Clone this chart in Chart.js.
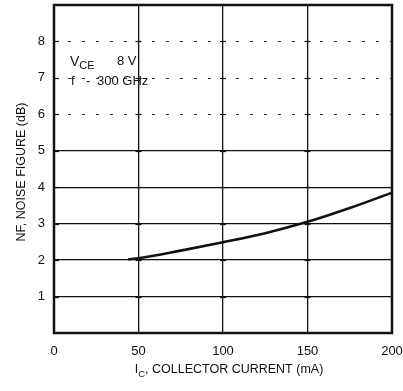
<!doctype html>
<html>
<head>
<title>Noise Figure vs Collector Current</title>
<script src="https://cdn.jsdelivr.net/npm/chart.js@4.4.0/dist/chart.umd.min.js"></script>
<style>
  html, body { margin: 0; padding: 0; background: #fff; }
  #wrap { width: 403px; height: 391px; }
</style>
</head>
<body>
<div id="wrap"><canvas id="mycanvas" width="403" height="391"></canvas></div>
<script>
// data
var currentMA = [44, 50, 75, 100, 125, 150, 175, 200];
var noiseDB   = [2.02, 2.05, 2.26, 2.49, 2.74, 3.05, 3.43, 3.85];
var xTicks = [0, 50, 100, 150, 200];
var yTicks = [1, 2, 3, 4, 5, 6, 7, 8];
var dashedRows = [6, 7, 8];

var FONT = "'Liberation Sans Narrow', 'Liberation Sans', Arial, sans-serif";
var INK = '#111';

// subscripted text helper: parts = [[text, isSub], ...]
function drawParts(ctx, parts, x, y, size) {
  var cx = x;
  parts.forEach(function (p) {
    ctx.font = (p[1] ? size - 3 : size) + 'px ' + FONT;
    ctx.fillText(p[0], cx, p[1] ? y + 4 : y);
    cx += ctx.measureText(p[0]).width;
  });
}
function partsWidth(ctx, parts, size) {
  var w = 0;
  parts.forEach(function (p) {
    ctx.font = (p[1] ? size - 3 : size) + 'px ' + FONT;
    w += ctx.measureText(p[0]).width;
  });
  return w;
}

var decor = {
  id: 'decor',
  beforeDatasetsDraw: function (chart) {
    var ctx = chart.ctx, a = chart.chartArea;
    var xs = chart.scales.x, ys = chart.scales.y;
    ctx.save();
    ctx.strokeStyle = '#333';
    ctx.lineWidth = 1.2;
    ctx.setLineDash([3, 11]);
    dashedRows.forEach(function (v) {
      var py = Math.round(ys.getPixelForValue(v)) + 0.5;
      ctx.beginPath(); ctx.moveTo(a.left, py); ctx.lineTo(a.right, py); ctx.stroke();
    });
    ctx.setLineDash([]);
    ctx.strokeStyle = INK;
    // small tick crosses on the vertical lines
    [50, 100, 150].forEach(function (xv) {
      var px = xs.getPixelForValue(xv);
      yTicks.forEach(function (yv) {
        var py = Math.round(ys.getPixelForValue(yv)) + 0.5;
        ctx.beginPath(); ctx.moveTo(px - 3, py); ctx.lineTo(px + 3, py); ctx.stroke();
      });
    });
    // left axis ticks
    yTicks.forEach(function (yv) {
      var py = Math.round(ys.getPixelForValue(yv)) + 0.5;
      ctx.beginPath(); ctx.moveTo(a.left, py); ctx.lineTo(a.left + 5, py); ctx.stroke();
    });
    ctx.restore();
  },
  afterDraw: function (chart) {
    var ctx = chart.ctx, a = chart.chartArea;
    ctx.save();
    // frame
    ctx.strokeStyle = INK;
    ctx.lineWidth = 2.5;
    ctx.strokeRect(a.left, a.top, a.right - a.left, a.bottom - a.top);

    ctx.fillStyle = INK;
    ctx.textBaseline = 'middle';
    ctx.textAlign = 'left';
    // conditions annotation
    drawParts(ctx, [['V', false], ['CE', true]], 70, 62, 14);
    ctx.font = '13px ' + FONT;
    ctx.fillText('8 V', 117, 61);
    ctx.fillText('f', 71, 81);
    ctx.fillText('-', 86, 81);
    ctx.fillText('300 GHz', 97, 81);

    // x axis title
    var xp = [['I', false], ['C', true], [', COLLECTOR CURRENT (mA)', false]];
    var w = partsWidth(ctx, xp, 12.5);
    drawParts(ctx, xp, 229 - w / 2, 370, 12.5);

    // y axis title
    ctx.translate(22, 172);
    ctx.rotate(-Math.PI / 2);
    ctx.textAlign = 'center';
    ctx.font = '12.5px ' + FONT;
    ctx.fillText('NF, NOISE FIGURE (dB)', 0, 0);
    ctx.restore();
  }
};

var ctx = document.getElementById('mycanvas');
var chart = new Chart(ctx, {
  type: 'line',
  data: {
    datasets: [{
      data: currentMA.map(function (x, i) { return { x: x, y: noiseDB[i] }; }),
      borderColor: INK,
      borderWidth: 2.6,
      pointRadius: 0,
      cubicInterpolationMode: 'monotone',
      fill: false
    }]
  },
  options: {
    responsive: false,
    animation: false,
    layout: { padding: { top: 5, right: 11, left: 0, bottom: 0 } },
    plugins: { legend: { display: false }, tooltip: { enabled: false } },
    scales: {
      x: {
        type: 'linear', min: 0, max: 200,
        afterBuildTicks: function (s) { s.ticks = xTicks.map(function (v) { return { value: v }; }); },
        afterFit: function (s) { s.height = 58; s.paddingLeft = 0; s.paddingRight = 0; },
        grid: {
          drawTicks: false,
          lineWidth: 1.3,
          color: function (c) { return (c.tick && (c.tick.value === 0 || c.tick.value === 200)) ? 'rgba(0,0,0,0)' : INK; }
        },
        border: { display: false },
        ticks: { padding: 11, color: INK, font: { family: FONT, size: 13 } }
      },
      y: {
        type: 'linear', min: 0, max: 9,
        afterBuildTicks: function (s) { s.ticks = yTicks.map(function (v) { return { value: v }; }); },
        afterFit: function (s) { s.width = 54; s.paddingTop = 0; s.paddingBottom = 0; },
        grid: {
          drawTicks: false,
          lineWidth: 1.3,
          color: function (c) { return (c.tick && c.tick.value <= 5) ? INK : 'rgba(0,0,0,0)'; }
        },
        border: { display: false },
        ticks: { padding: 9, color: INK, font: { family: FONT, size: 13 } }
      }
    }
  },
  plugins: [decor]
});
</script>
</body>
</html>
